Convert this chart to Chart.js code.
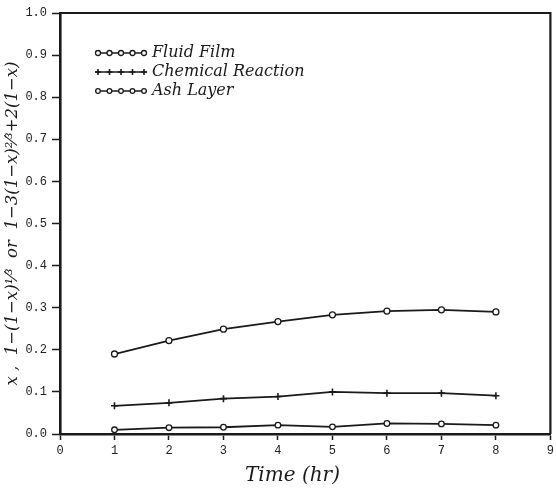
<!DOCTYPE html>
<html>
<head>
<meta charset="utf-8">
<script src="https://cdn.jsdelivr.net/npm/chart.js@4.4.0/dist/chart.umd.min.js"></script>
<style>
  html, body { margin: 0; padding: 0; background: #ffffff; }
  canvas { display: block; }
</style>
</head>
<body>
<canvas id="c" width="556" height="492"></canvas>
<script>
// ---- data ----
const timeHr = [1, 2, 3, 4, 5, 6, 7, 8];
const fluidFilm = [0.190, 0.222, 0.249, 0.267, 0.283, 0.292, 0.295, 0.290];
const chemicalReaction = [0.067, 0.074, 0.084, 0.089, 0.100, 0.097, 0.097, 0.091];
const ashLayer = [0.010, 0.015, 0.016, 0.021, 0.017, 0.025, 0.024, 0.021];
const seriesLabels = ['Fluid Film', 'Chemical Reaction', 'Ash Layer'];
const xTicks = [0, 1, 2, 3, 4, 5, 6, 7, 8, 9];
const yTicks = [0.0, 0.1, 0.2, 0.3, 0.4, 0.5, 0.6, 0.7, 0.8, 0.9, 1.0];
const xTitle = 'Time (hr)';
const yTitle = 'x ,  1\u2212(1\u2212x)\u00B9\u2044\u00B3  or  1\u22123(1\u2212x)\u00B2\u2044\u00B3+2(1\u2212x)';

const toPts = (arr) => arr.map((v, i) => ({ x: timeHr[i], y: v }));

const ink = '#1a1a1a';

const whiteBg = {
  id: 'whiteBg',
  beforeDraw(chart) {
    const ctx = chart.ctx;
    ctx.save();
    ctx.fillStyle = '#ffffff';
    ctx.fillRect(0, 0, chart.width, chart.height);
    ctx.restore();
  }
};

const frame = {
  id: 'frame',
  afterDraw(chart) {
    const a = chart.chartArea, ctx = chart.ctx;
    ctx.save();
    ctx.strokeStyle = ink;
    ctx.lineWidth = 2.2;
    ctx.beginPath();
    ctx.moveTo(a.left, a.top);
    ctx.lineTo(a.right, a.top);
    ctx.lineTo(a.right, a.bottom);
    ctx.stroke();
    ctx.restore();
  }
};

const sampleLegend = {
  id: 'sampleLegend',
  afterDraw(chart) {
    const a = chart.chartArea, ctx = chart.ctx;
    ctx.save();
    chart.data.datasets.forEach((ds, i) => {
      const y = a.top + 40 + i * 19;
      const x0 = a.left + 35, x1 = a.left + 87;
      ctx.strokeStyle = ink;
      ctx.lineWidth = 1.5;
      ctx.beginPath();
      ctx.moveTo(x0, y);
      ctx.lineTo(x1, y);
      ctx.stroke();
      for (let k = 0; k < 5; k++) {
        const px = x0 + 3 + k * (x1 - x0 - 6) / 4;
        ctx.fillStyle = ds.pointBackgroundColor;
        ctx.strokeStyle = ds.pointBorderColor;
        ctx.lineWidth = ds.pointBorderWidth;
        Chart.helpers.drawPoint(ctx, { pointStyle: ds.pointStyle, radius: ds.pointRadius - 0.5, borderWidth: ds.pointBorderWidth, rotation: 0 }, px, y);
      }
      ctx.fillStyle = ink;
      ctx.font = 'italic 16px "DejaVu Serif"';
      ctx.textBaseline = 'middle';
      ctx.textAlign = 'left';
      ctx.fillText(ds.label, x1 + 5, y);
    });
    ctx.restore();
  }
};

new Chart(document.getElementById('c'), {
  type: 'line',
  data: {
    datasets: [
      {
        label: seriesLabels[0], data: toPts(fluidFilm),
        borderColor: ink, borderWidth: 1.8, tension: 0,
        pointStyle: 'circle', pointRadius: 3, pointBackgroundColor: '#ffffff',
        pointBorderColor: ink, pointBorderWidth: 1.3
      },
      {
        label: seriesLabels[1], data: toPts(chemicalReaction),
        borderColor: ink, borderWidth: 1.8, tension: 0,
        pointStyle: 'cross', pointRadius: 3.5, pointBackgroundColor: ink,
        pointBorderColor: ink, pointBorderWidth: 1.6
      },
      {
        label: seriesLabels[2], data: toPts(ashLayer),
        borderColor: ink, borderWidth: 1.8, tension: 0,
        pointStyle: 'circle', pointRadius: 2.8, pointBackgroundColor: '#ffffff',
        pointBorderColor: ink, pointBorderWidth: 1.3
      }
    ]
  },
  options: {
    responsive: false,
    animation: false,
    layout: { padding: { top: 13, right: 0, left: 0, bottom: 0 } },
    plugins: {
      legend: { display: false },
      tooltip: { enabled: false }
    },
    scales: {
      x: {
        type: 'linear', min: 0, max: 9,
        afterBuildTicks: (s) => { s.ticks = xTicks.map(v => ({ value: v })); },
        afterFit: (s) => { s.height = 58; s.paddingRight = 2; },
        ticks: {
          color: '#222', font: { family: '"Liberation Mono"', size: 12 },
          padding: 4, maxRotation: 0, autoSkip: false,
          callback: (v) => String(v)
        },
        grid: { drawOnChartArea: false, tickLength: 6, color: ink, tickWidth: 1.5 },
        border: { color: ink, width: 2.6 },
        title: {
          display: true, text: xTitle + '    ', color: ink,
          font: { family: '"DejaVu Serif"', style: 'italic', size: 20 },
          padding: { top: 0, bottom: 4 }
        }
      },
      y: {
        min: 0, max: 1,
        afterBuildTicks: (s) => { s.ticks = yTicks.map(v => ({ value: v })); },
        afterFit: (s) => { s.width = 60; },
        ticks: {
          color: '#222', font: { family: '"Liberation Mono"', size: 12 },
          padding: 5, autoSkip: false,
          callback: (v) => Number(v).toFixed(1)
        },
        grid: { drawOnChartArea: false, tickLength: 8, color: ink, tickWidth: 1.5 },
        border: { color: ink, width: 2.6 },
        title: {
          display: true, text: yTitle, color: ink,
          font: { family: '"DejaVu Serif"', style: 'italic', size: 16.5 },
          padding: { top: 3, bottom: 0 }
        }
      }
    }
  },
  plugins: [whiteBg, frame, sampleLegend]
});
</script>
</body>
</html>
